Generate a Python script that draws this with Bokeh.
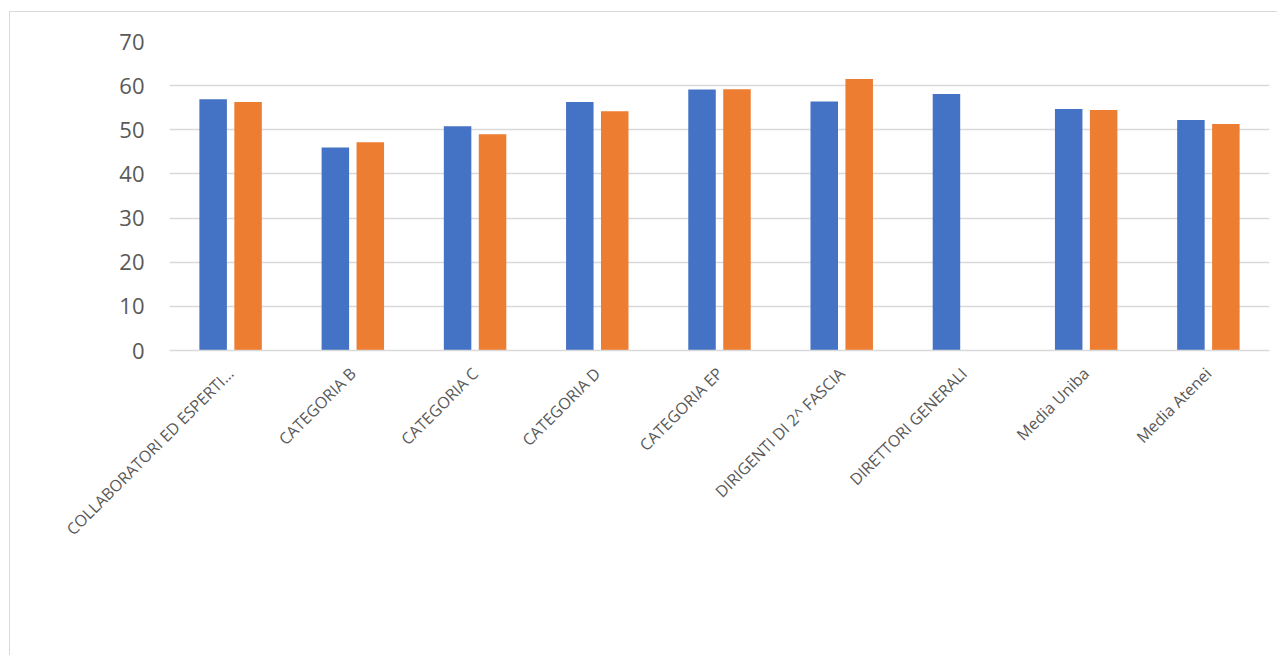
import math
from bokeh.plotting import figure
from bokeh.models import ColumnDataSource, FactorRange, Range1d, Legend, LegendItem
from bokeh.transform import dodge
from bokeh.embed import file_html
from bokeh.resources import INLINE

categories = ["COLLABORATORI ED ESPERTI…", "CATEGORIA B", "CATEGORIA C", "CATEGORIA D",
              "CATEGORIA EP", "DIRIGENTI DI 2^ FASCIA", "DIRETTORI GENERALI",
              "Media Uniba", "Media Atenei"]
uomini = [56.9, 46.0, 50.8, 56.3, 59.1, 56.4, 58.1, 54.7, 52.2]
donne = [56.3, 47.2, 49.0, 54.2, 59.2, 61.5, float("nan"), 54.5, 51.3]
y_ticks = [0, 10, 20, 30, 40, 50, 60, 70]

BLUE = "#4472C4"
ORANGE = "#ED7D31"
GRID = "#D9D9D9"
TXT = "#595959"
FONT = "Open Sans"

src = ColumnDataSource(dict(cat=categories, u=uomini, d=donne))

p = figure(x_range=FactorRange(*categories, range_padding=0),
           y_range=Range1d(0, 70), title=None,
           frame_width=1100, frame_height=309, output_backend="svg", toolbar_location=None,
           min_border_left=159, min_border_right=8, min_border_top=29, min_border_bottom=10)

r1 = p.vbar(x=dodge("cat", -0.143, range=p.x_range), top="u", width=0.225, source=src,
            fill_color=BLUE, line_color=None)
r2 = p.vbar(x=dodge("cat", 0.143, range=p.x_range), top="d", width=0.225, source=src,
            fill_color=ORANGE, line_color=None)

p.outline_line_color = None
p.xgrid.grid_line_color = None
p.ygrid.grid_line_color = GRID
p.ygrid.grid_line_width = 1.5
p.yaxis.ticker = y_ticks
p.yaxis.axis_line_color = None
p.yaxis.major_tick_line_color = None
p.yaxis.minor_tick_line_color = None
p.yaxis.major_label_standoff = 19
p.yaxis.major_label_text_font = FONT
p.yaxis.major_label_text_font_size = "22px"
p.yaxis.major_label_text_color = TXT

p.xaxis.axis_line_color = GRID
p.xaxis.axis_line_width = 1.5
p.xaxis.major_tick_line_color = None
p.xaxis.minor_tick_line_color = None
p.xaxis.major_label_orientation = math.pi / 4
p.xaxis.major_label_standoff = 14
p.xaxis.major_label_text_font = FONT
p.xaxis.major_label_text_font_size = "16px"
p.xaxis.major_label_text_color = TXT

legend = Legend(items=[LegendItem(label="Uomini", renderers=[r1]),
                       LegendItem(label="Donne", renderers=[r2])],
                orientation="horizontal", location=(395, 0), padding=0, margin=0,
                label_text_font=FONT, label_text_font_size="20px", label_text_color=TXT,
                glyph_width=13, glyph_height=13, spacing=20, label_standoff=6,
                border_line_color=None, background_fill_alpha=0)
p.add_layout(legend, "below")

p.styles = {"margin-left": "9px", "margin-top": "11px",
            "border-left": "1px solid #D9D9D9", "border-top": "1px solid #D9D9D9"}

open("out.html", "w").write(file_html(p, INLINE))
